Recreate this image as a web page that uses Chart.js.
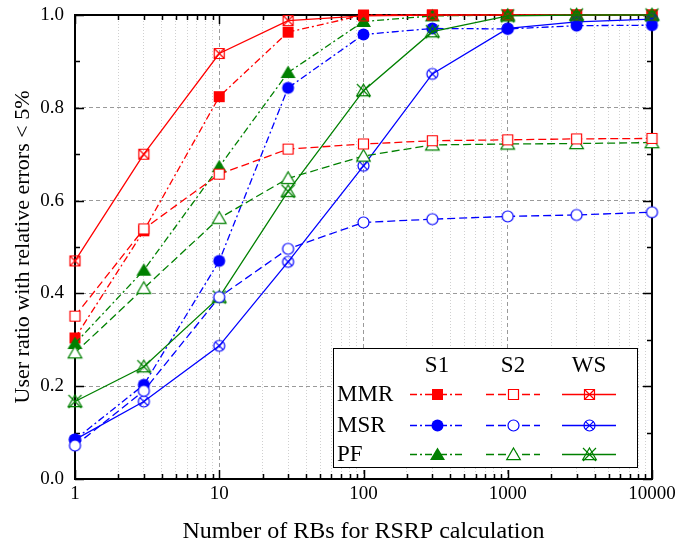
<!DOCTYPE html>
<html><head><meta charset="utf-8">
<script src="https://cdn.jsdelivr.net/npm/chart.js@4/dist/chart.umd.min.js"></script>
<style>html,body{margin:0;padding:0;background:#fff}</style>
</head><body>
<canvas id="c" width="677" height="547"></canvas>
<script>
// ---- data ----
const xValues = [1, 3, 10, 30, 100, 300, 1000, 3000, 10000];
const mmrS1 = [0.304, 0.535, 0.824, 0.963, 1.0, 1.0, 1.0, 1.0, 1.0];
const mmrS2 = [0.351, 0.539, 0.657, 0.711, 0.722, 0.729, 0.731, 0.733, 0.734];
const mmrWS = [0.470, 0.700, 0.917, 0.988, 0.998, 1.0, 1.0, 1.0, 1.0];
const msrS1 = [0.085, 0.203, 0.470, 0.843, 0.958, 0.971, 0.970, 0.977, 0.978];
const msrS2 = [0.072, 0.190, 0.392, 0.496, 0.553, 0.560, 0.566, 0.569, 0.575];
const msrWS = [0.085, 0.167, 0.287, 0.468, 0.675, 0.873, 0.971, 0.985, 0.991];
const pfS1  = [0.292, 0.450, 0.673, 0.876, 0.986, 0.998, 1.0, 1.0, 1.0];
const pfS2  = [0.272, 0.411, 0.562, 0.648, 0.696, 0.720, 0.722, 0.723, 0.725];
const pfWS  = [0.167, 0.242, 0.392, 0.620, 0.837, 0.964, 0.998, 1.0, 1.0];

const rowLabels = ['MMR', 'MSR', 'PF'];
const colLabels = ['S1', 'S2', 'WS'];
const xDecades = [1, 10, 100, 1000];
const xMultipliers = [1, 2, 3, 4, 5, 6, 7, 8, 9];
const yTickValues = [0, 0.1, 0.2, 0.3, 0.4, 0.5, 0.6, 0.7, 0.8, 0.9, 1.0];
const xTitle = 'Number of RBs for RSRP calculation';
const yTitle = 'User ratio with relative errors < 5%';

// ---- styles ----
const rowColors = ['#ff0000', '#0000ff', '#008000'];
const colDash = [[7, 3, 2, 3], [8, 4], []];
const rowShapes = ['sq', 'circ', 'tri'];

function isDecade(v) { const l = Math.log10(v); return Math.abs(l - Math.round(l)) < 1e-9; }
function isEvenTenth(v) { return Math.round(v * 10) % 2 === 0; }

function marker(shape, col, color) {
  const S = 17, c = document.createElement('canvas');
  c.width = S; c.height = S;
  const g = c.getContext('2d');
  g.translate(S / 2, S / 2);
  g.lineWidth = 1.2; g.strokeStyle = color; g.fillStyle = color;
  const filled = col === 0, crossed = col === 2;
  g.beginPath();
  if (shape === 'sq') {
    if (filled) g.rect(-5.5, -5.5, 11, 11); else g.rect(-5, -5, 10, 10);
  } else if (shape === 'circ') {
    g.arc(0, 0, filled ? 6 : 5.5, 0, Math.PI * 2);
  } else {
    if (filled) { g.moveTo(0, -7); g.lineTo(7.5, 5.5); g.lineTo(-7.5, 5.5); }
    else { g.moveTo(0, -6.5); g.lineTo(6.8, 5.2); g.lineTo(-6.8, 5.2); }
    g.closePath();
  }
  if (filled) g.fill();
  else {
    if (!crossed) { g.fillStyle = '#fff'; g.fill(); }
    g.stroke();
  }
  if (crossed) {
    const r = shape === 'circ' ? 3.9 : (shape === 'sq' ? 5 : 6.5);
    g.beginPath();
    g.moveTo(-r, -r); g.lineTo(r, r);
    g.moveTo(r, -r); g.lineTo(-r, r);
    g.stroke();
  }
  return c;
}

const seriesTable = [
  [mmrS1, mmrS2, mmrWS],
  [msrS1, msrS2, msrWS],
  [pfS1, pfS2, pfWS]
];
// drawing order: first dataset ends up on top
const drawOrder = [[0,1],[1,1],[2,1],[2,2],[1,2],[0,2],[2,0],[1,0],[0,0]];

const datasets = drawOrder.map(([r, c]) => ({
  label: rowLabels[r] + ' ' + colLabels[c],
  data: xValues.map((x, i) => ({ x: x, y: seriesTable[r][c][i] })),
  borderColor: rowColors[r],
  backgroundColor: rowColors[r],
  borderWidth: 1.3,
  borderDash: colDash[c],
  pointStyle: marker(rowShapes[r], c, rowColors[r]),
  pointRadius: 5,
  pointHoverRadius: 5,
  tension: 0,
  clip: false,
  fill: false,
  legendRow: r,
  legendCol: c
}));

const framePlugin = {
  id: 'frame',
  beforeDatasetsDraw(chart) {
    const { ctx, chartArea: a, scales } = chart;
    ctx.save();
    ctx.strokeStyle = '#000';
    ctx.lineWidth = 1.5;
    scales.x.ticks.forEach(t => {
      const px = Math.round(scales.x.getPixelForValue(t.value)) + 0.5;
      const len = isDecade(t.value) ? 9 : 5;
      ctx.beginPath();
      ctx.moveTo(px, a.bottom); ctx.lineTo(px, a.bottom - len);
      ctx.moveTo(px, a.top); ctx.lineTo(px, a.top + len);
      ctx.stroke();
    });
    scales.y.ticks.forEach(t => {
      const py = Math.round(scales.y.getPixelForValue(t.value)) + 0.5;
      const len = isEvenTenth(t.value) ? 9 : 5;
      ctx.beginPath();
      ctx.moveTo(a.left, py); ctx.lineTo(a.left + len, py);
      ctx.moveTo(a.right, py); ctx.lineTo(a.right - len, py);
      ctx.stroke();
    });
    ctx.lineWidth = 2;
    ctx.strokeRect(a.left, a.top, a.right - a.left, a.bottom - a.top);
    ctx.restore();
  }
};

const legendPlugin = {
  id: 'tableLegend',
  afterDatasetsDraw(chart) {
    const { ctx, chartArea: a } = chart;
    const w = 304, h = 119;
    const x0 = a.right - 15 - w, y0 = a.bottom - 12 - h;
    const colX = [104, 180, 256];
    const rowY = [46, 77, 106];
    ctx.save();
    ctx.fillStyle = '#fff';
    ctx.fillRect(x0, y0, w, h);
    ctx.strokeStyle = '#000'; ctx.lineWidth = 1;
    ctx.strokeRect(x0 + 0.5, y0 + 0.5, w, h);
    ctx.fillStyle = '#000';
    ctx.font = '23px "Liberation Serif"';
    ctx.textBaseline = 'middle';
    ctx.textAlign = 'center';
    colLabels.forEach((t, i) => ctx.fillText(t, x0 + colX[i], y0 + 18));
    ctx.textAlign = 'left';
    rowLabels.forEach((t, j) => ctx.fillText(t, x0 + 4, y0 + rowY[j] + 1));
    chart.data.datasets.forEach(ds => {
      const cx = x0 + colX[ds.legendCol], cy = Math.round(y0 + rowY[ds.legendRow]) + 0.5;
      ctx.save();
      ctx.strokeStyle = ds.borderColor; ctx.lineWidth = ds.borderWidth;
      ctx.setLineDash(ds.borderDash);
      ctx.beginPath(); ctx.moveTo(cx - 27, cy); ctx.lineTo(cx + 27, cy); ctx.stroke();
      ctx.restore();
      const m = ds.pointStyle;
      ctx.drawImage(m, Math.round(cx - m.width / 2), Math.round(cy - m.height / 2));
    });
    ctx.restore();
  }
};

Chart.defaults.font.family = '"Liberation Serif", "Times New Roman", serif';
Chart.defaults.color = '#000';

new Chart(document.getElementById('c'), {
  type: 'line',
  data: { datasets: datasets },
  options: {
    responsive: false,
    animation: false,
    devicePixelRatio: 1,
    layout: { padding: { left: 0, right: 25, top: 15, bottom: 0 } },
    plugins: { legend: { display: false }, tooltip: { enabled: false } },
    events: [],
    scales: {
      x: {
        type: 'logarithmic',
        min: 1, max: 10000,
        afterBuildTicks: s => {
          const vals = [];
          xDecades.forEach(d => xMultipliers.forEach(m => vals.push(d * m)));
          vals.push(10000);
          s.ticks = vals.map(v => ({ value: v }));
        },
        afterFit: s => { s.height = 68; s.paddingLeft = 0; s.paddingRight = 0; },
        ticks: {
          autoSkip: false, maxRotation: 0, padding: 4,
          font: { size: 19 },
          callback: v => isDecade(v) ? String(v) : ''
        },
        grid: {
          drawTicks: false,
          lineWidth: 1,
          color: c => (c.tick && isDecade(c.tick.value)) ? '#9a9a9a' : '#d0d0d0'
        },
        border: {
          display: false,
          dash: c => c.tick ? (isDecade(c.tick.value) ? [4, 3] : [1, 2]) : []
        },
        title: { display: true, text: xTitle, font: { size: 24 }, padding: { top: 0, bottom: 1 } }
      },
      y: {
        type: 'linear',
        min: 0, max: 1,
        afterBuildTicks: s => { s.ticks = yTickValues.map(v => ({ value: v })); },
        afterFit: s => { s.width = 75; s.paddingTop = 0; s.paddingBottom = 0; },
        ticks: {
          autoSkip: false, padding: 11,
          font: { size: 19 },
          callback: v => isEvenTenth(v) ? v.toFixed(1) : ''
        },
        grid: {
          drawTicks: false,
          lineWidth: 1,
          color: c => (c.tick && isEvenTenth(c.tick.value)) ? '#9a9a9a' : 'rgba(0,0,0,0)'
        },
        border: {
          display: false,
          dash: c => c.tick ? [4, 3] : []
        },
        title: { display: true, text: yTitle, font: { size: 22 }, padding: { top: 10, bottom: 0 } }
      }
    }
  },
  plugins: [framePlugin, legendPlugin]
});
</script>
</body></html>
